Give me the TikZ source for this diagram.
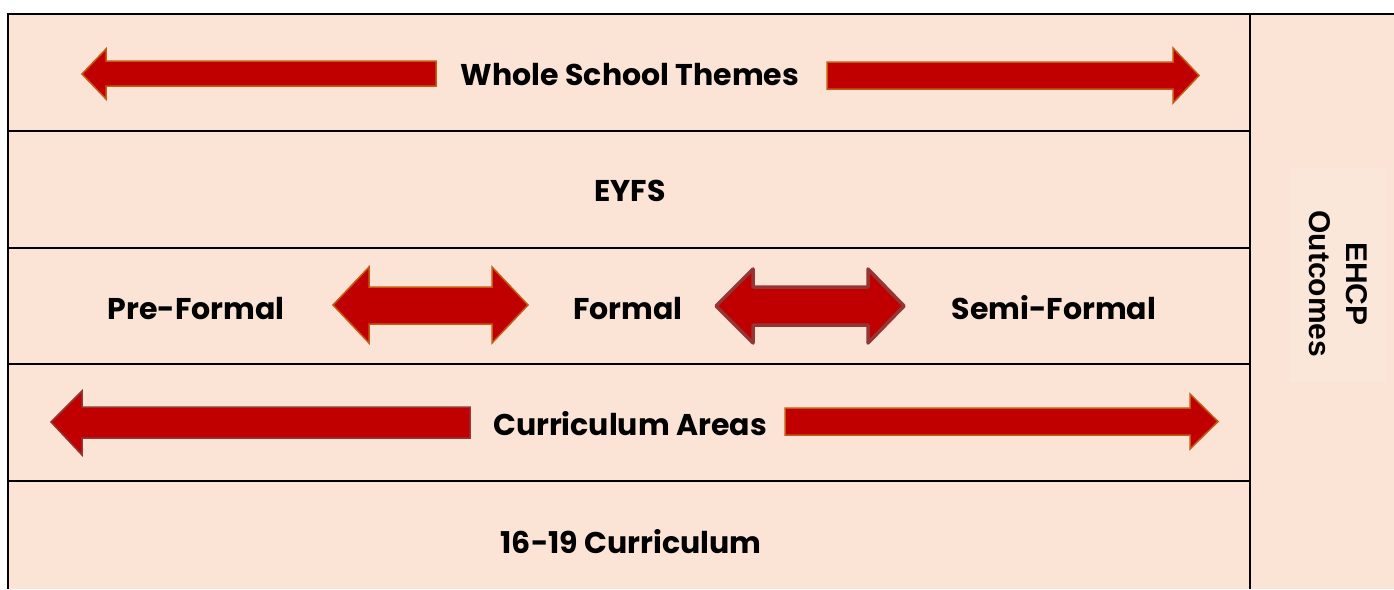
\documentclass[tikz,border=0pt]{standalone}
\usepackage{fontspec}
\setmainfont{Poppins}
\newfontfamily\arialfont{Liberation Sans}
\definecolor{peach}{HTML}{FBE4D5}
\definecolor{boxpeach}{HTML}{FBE6DA}
\definecolor{arrowred}{HTML}{C00000}
\definecolor{arrorange}{HTML}{C55A11}
\definecolor{arrdark}{HTML}{943634}
\begin{document}
\begin{tikzpicture}[x=1pt,y=-1pt,
  lbl/.style={font=\bfseries\fontsize{30}{32}\selectfont, anchor=base, inner sep=0pt},
  arrO/.style={fill=arrowred, draw=arrorange, line width=1.5pt},
  arrD/.style={fill=arrowred, draw=arrdark, line width=1.5pt},
  arrDthick/.style={fill=arrowred, draw=arrdark, line width=3.5pt, line join=round},
  rule/.style={line width=2.2pt, black}]
\useasboundingbox (0,0) rectangle (1394,589);
\fill[white] (0,0) rectangle (1394,589);
\fill[peach] (8,14) rectangle (1394,589);
\fill[boxpeach] (1290,168) rectangle (1386,382);
% frame and rows
\draw[rule] (1394,14) -- (8,14) -- (8,589);
\draw[rule] (1250,14) -- (1250,589);
\foreach \yy in {131,248,364,481} \draw[rule] (8,\yy) -- (1250,\yy);
% arrows row 1
\draw[arrO] (82,74) -- (106,49) -- (106,61) -- (436,61) -- (436,86) -- (106,86) -- (106,99) -- cycle;
\draw[arrO] (827,62) -- (1173,62) -- (1173,48) -- (1199,75.5) -- (1173,103) -- (1173,89) -- (827,89) -- cycle;
% double arrows row 3
\draw[arrO] (333,305) -- (369,267) -- (369,287) -- (492,287) -- (492,267) -- (528,305) -- (492,343) -- (492,324) -- (369,324) -- (369,343) -- cycle;
\draw[arrDthick] (716,306) -- (753,269) -- (753,287) -- (868,287) -- (868,269) -- (904,306) -- (868,343) -- (868,325) -- (753,325) -- (753,343) -- cycle;
% arrows row 4
\draw[arrD] (51,422) -- (82,391) -- (82,407) -- (470,407) -- (470,438) -- (82,438) -- (82,455) -- cycle;
\draw[arrO] (785,408) -- (1190,408) -- (1190,394) -- (1218,421.5) -- (1190,449) -- (1190,435) -- (785,435) -- cycle;
% labels
\node[lbl] (whole) at (630,85) {Whole School Themes};
\node[lbl] (eyfs) at (630,201) {EYFS};
\node[lbl] (pre) at (196,319) {Pre-Formal};
\node[lbl] (formal) at (628,319) {Formal};
\node[lbl] (semi) at (1054,319) {Semi-Formal};
\node[lbl] (areas) at (630,435) {Curriculum Areas};
\node[lbl] (sixteen) at (631,553) {16-19 Curriculum};
\node[rotate=-90, align=center, inner sep=0pt, font=\arialfont\bfseries\fontsize{30}{37}\selectfont] (ehcp) at (1338,284) {EHCP\\Outcomes};
\end{tikzpicture}
\end{document}
